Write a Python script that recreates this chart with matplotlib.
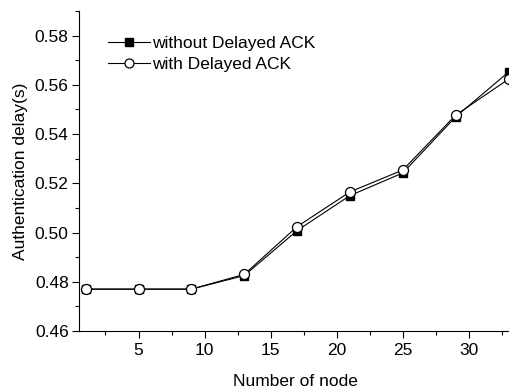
import numpy as np
import matplotlib.pyplot as plt
from matplotlib.ticker import MultipleLocator

plt.rcParams['font.family'] = ['Liberation Sans', 'DejaVu Sans']

nodes = [1, 5, 9, 13, 17, 21, 25, 29, 33]
without_ack = [0.477, 0.477, 0.477, 0.4825, 0.5008, 0.515, 0.5242, 0.547, 0.5652]
with_ack = [0.477, 0.477, 0.477, 0.483, 0.5024, 0.5165, 0.5254, 0.5477, 0.5623]

fig = plt.figure(figsize=(5.1, 3.91), dpi=100)
ax = fig.add_axes([0.155, 0.1535, 0.85, 0.8185])

ax.plot(nodes, without_ack, color='black', lw=0.8, marker='s', ms=6,
        mfc='black', mec='black', label='without Delayed ACK', clip_on=False, zorder=3)
ax.plot(nodes, with_ack, color='black', lw=0.8, marker='o', ms=7.2,
        mfc='white', mec='black', mew=0.9, label='with Delayed ACK', clip_on=False, zorder=4)

ax.set_xlim(0.5, 33.3)
ax.set_ylim(0.46, 0.59)
ax.xaxis.set_minor_locator(MultipleLocator(2.5))
ax.yaxis.set_minor_locator(MultipleLocator(0.01))
ax.set_xticks([5, 10, 15, 20, 25, 30])
ax.set_yticks([0.46, 0.48, 0.50, 0.52, 0.54, 0.56, 0.58])
ax.set_yticklabels(['0.46', '0.48', '0.50', '0.52', '0.54', '0.56', '0.58'])
ax.tick_params(which='major', direction='out', length=5, width=0.8, labelsize=12.5, pad=2.5)
ax.tick_params(axis='x', which='major', pad=4)
ax.tick_params(which='minor', direction='out', length=3, width=0.8)

ax.spines['top'].set_visible(False)
ax.spines['right'].set_visible(False)

ax.set_xlabel('Number of node', fontsize=12.5, labelpad=11)
ax.set_ylabel('Authentication delay(s)', fontsize=12.5, labelpad=5)

ax.legend(loc='upper left', bbox_to_anchor=(0.051, 0.944), frameon=False, fontsize=12.5,
          handlelength=2.4, handletextpad=0.15, labelspacing=0.32, borderaxespad=0,
          markerscale=0.9)

fig.savefig('out.png', dpi=100)
